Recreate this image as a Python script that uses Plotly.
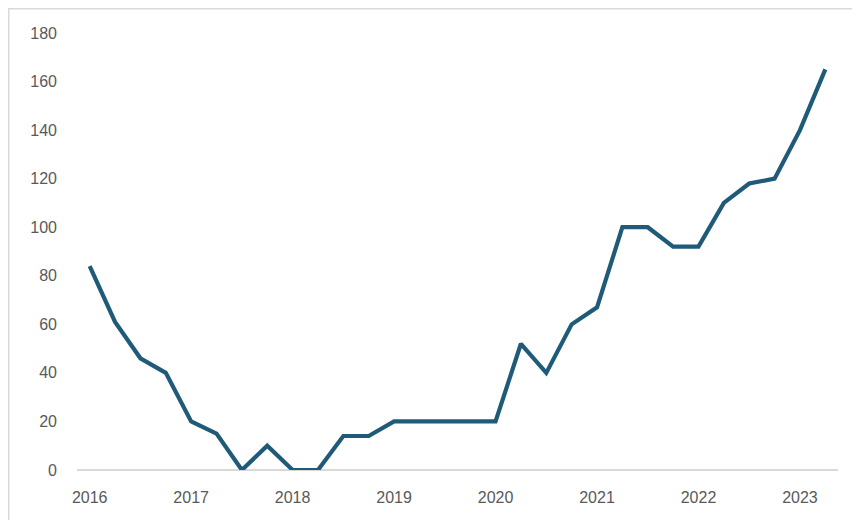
import plotly.graph_objects as go

years = ["2016", "2017", "2018", "2019", "2020", "2021", "2022", "2023"]
quarters = [f"{y}Q{q}" for y in range(2016, 2024) for q in range(1, 5)][:30]
values = [84, 61, 46, 40, 20, 15, 0, 10,
          0, 0, 14, 14, 20, 20, 20, 20,
          20, 52, 40, 60, 67, 100, 100, 92,
          92, 110, 118, 120, 140, 165]

# page is offset by the 8px body margin
OFF = 8
W, H = 860 - OFF, 520 - OFF
L, R, T, B = 77 - OFF, 838 - OFF, 33 - OFF, 470 - OFF

idx = list(range(len(values)))
fig = go.Figure()
fig.add_trace(go.Scatter(
    x=idx, y=values, mode="lines",
    line=dict(color="#1F5B79", width=4.2),
    hoverinfo="skip", showlegend=False,
))

font = dict(family="Liberation Sans, Arial, sans-serif", size=16, color="#595959")

fig.update_layout(
    width=W, height=H,
    margin=dict(l=L, r=W - R, t=T, b=H - B),
    paper_bgcolor="white", plot_bgcolor="white",
    font=font,
    xaxis=dict(
        range=[-0.5, len(values) - 0.5],
        tickmode="array",
        tickvals=[i * 4 for i in range(len(years))],
        ticktext=years,
        showgrid=False, zeroline=False,
        showline=False, ticks="",
        ticklabelstandoff=16,
        tickfont=font,
    ),
    yaxis=dict(
        range=[0, 180],
        tickmode="array",
        tickvals=[0, 20, 40, 60, 80, 100, 120, 140, 160, 180],
        showgrid=False, zeroline=True, zerolinecolor="#D9D9D9", zerolinewidth=1.5,
        showline=False, ticks="",
        ticklabelstandoff=19,
        tickfont=font,
    ),
)

pw, ph = R - L, B - T
fig.add_shape(
    type="rect", xref="paper", yref="paper",
    x0=(0.75 - L) / pw, x1=(W + 5 - L) / pw,
    y0=(B - (H + 5)) / ph, y1=(B - 0.75) / ph,
    line=dict(color="#D9D9D9", width=1.5), fillcolor="rgba(0,0,0,0)",
    layer="below",
)

fig.write_html("out.html")
